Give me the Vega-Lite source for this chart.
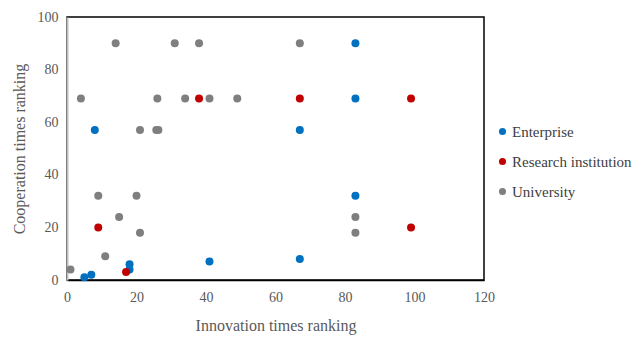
{
  "$schema": "https://vega.github.io/schema/vega-lite/v6.json",
  "autosize": "none",
  "width": 417,
  "height": 263,
  "padding": {"left": 67, "top": 17, "right": 158, "bottom": 57},
  "background": "white",
  "config": {
    "view": {"stroke": "#000000", "strokeWidth": 1.5},
    "font": "Liberation Serif"
  },
  "data": {
    "values": [
      {"innovation": 14, "cooperation": 90, "type": "University"},
      {"innovation": 31, "cooperation": 90, "type": "University"},
      {"innovation": 38, "cooperation": 90, "type": "University"},
      {"innovation": 67, "cooperation": 90, "type": "University"},
      {"innovation": 4, "cooperation": 69, "type": "University"},
      {"innovation": 26, "cooperation": 69, "type": "University"},
      {"innovation": 34, "cooperation": 69, "type": "University"},
      {"innovation": 41, "cooperation": 69, "type": "University"},
      {"innovation": 49, "cooperation": 69, "type": "University"},
      {"innovation": 21, "cooperation": 57, "type": "University"},
      {"innovation": 25.7, "cooperation": 57, "type": "University"},
      {"innovation": 26.3, "cooperation": 57, "type": "University"},
      {"innovation": 9, "cooperation": 32, "type": "University"},
      {"innovation": 20, "cooperation": 32, "type": "University"},
      {"innovation": 15, "cooperation": 24, "type": "University"},
      {"innovation": 21, "cooperation": 18, "type": "University"},
      {"innovation": 11, "cooperation": 9, "type": "University"},
      {"innovation": 1, "cooperation": 4, "type": "University"},
      {"innovation": 83, "cooperation": 24, "type": "University"},
      {"innovation": 83, "cooperation": 18, "type": "University"},
      {"innovation": 8, "cooperation": 57, "type": "Enterprise"},
      {"innovation": 5, "cooperation": 1, "type": "Enterprise"},
      {"innovation": 7, "cooperation": 2, "type": "Enterprise"},
      {"innovation": 18, "cooperation": 6, "type": "Enterprise"},
      {"innovation": 18, "cooperation": 4, "type": "Enterprise"},
      {"innovation": 41, "cooperation": 7, "type": "Enterprise"},
      {"innovation": 83, "cooperation": 90, "type": "Enterprise"},
      {"innovation": 83, "cooperation": 69, "type": "Enterprise"},
      {"innovation": 67, "cooperation": 57, "type": "Enterprise"},
      {"innovation": 83, "cooperation": 32, "type": "Enterprise"},
      {"innovation": 67, "cooperation": 8, "type": "Enterprise"},
      {"innovation": 38, "cooperation": 69, "type": "Research institution"},
      {"innovation": 9, "cooperation": 20, "type": "Research institution"},
      {"innovation": 17, "cooperation": 3, "type": "Research institution"},
      {"innovation": 67, "cooperation": 69, "type": "Research institution"},
      {"innovation": 99, "cooperation": 69, "type": "Research institution"},
      {"innovation": 99, "cooperation": 20, "type": "Research institution"}
    ]
  },
  "mark": {"type": "circle", "size": 64, "opacity": 1},
  "encoding": {
    "x": {
      "field": "innovation",
      "type": "quantitative",
      "scale": {"domain": [0, 120], "nice": false},
      "axis": {
        "title": "Innovation times ranking",
        "values": [0, 20, 40, 60, 80, 100, 120],
        "grid": false,
        "ticks": false,
        "labelFlush": false,
        "domainColor": "#000000",
        "domainWidth": 1.5,
        "labelFont": "Liberation Serif",
        "labelFontSize": 14,
        "labelColor": "#595959",
        "labelPadding": 10,
        "titleFont": "Liberation Serif",
        "titleFontSize": 16,
        "titleFontWeight": "normal",
        "titleColor": "#595959",
        "titlePadding": 13
      }
    },
    "y": {
      "field": "cooperation",
      "type": "quantitative",
      "scale": {"domain": [0, 100], "nice": false},
      "axis": {
        "title": "Cooperation times ranking",
        "values": [0, 20, 40, 60, 80, 100],
        "grid": false,
        "ticks": false,
        "labelFlush": false,
        "domainColor": "#BFBFBF",
        "domainWidth": 2,
        "labelFont": "Liberation Serif",
        "labelFontSize": 14,
        "labelColor": "#595959",
        "labelPadding": 9,
        "titleFont": "Liberation Serif",
        "titleFontSize": 16,
        "titleFontWeight": "normal",
        "titleColor": "#595959",
        "titlePadding": 10
      }
    },
    "color": {
      "field": "type",
      "type": "nominal",
      "scale": {
        "domain": ["Enterprise", "Research institution", "University"],
        "range": ["#0070C0", "#C00000", "#7F7F7F"]
      },
      "legend": {
        "title": null,
        "orient": "none",
        "legendX": 428,
        "legendY": 107,
        "symbolType": "circle",
        "symbolSize": 50,
        "symbolOpacity": 1,
        "labelFont": "Liberation Serif",
        "labelFontSize": 15,
        "labelColor": "#404040",
        "labelOffset": 2,
        "rowPadding": 14
      }
    }
  }
}
